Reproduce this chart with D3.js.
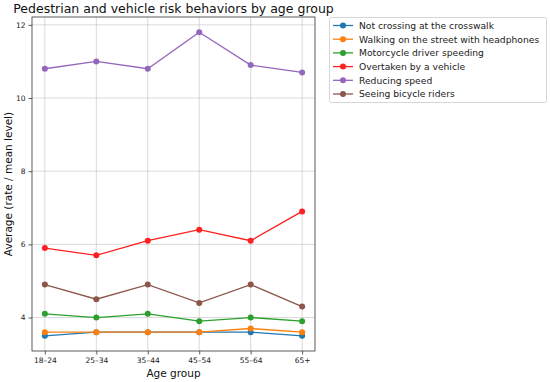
<!DOCTYPE html>
<html><head><meta charset="utf-8">
<script src="https://cdn.jsdelivr.net/npm/d3@7"></script>
<style>body{margin:0;background:#fff}svg{font-family:"DejaVu Sans",sans-serif}</style>
</head><body><svg width="550" height="382"></svg>
<script>
const categories = ["18–24","25–34","35–44","45–54","55–64","65+"];
const seriesNames = ["Not crossing at the crosswalk","Walking on the street with headphones","Motorcycle driver speeding","Overtaken by a vehicle","Reducing speed","Seeing bicycle riders"];
const seriesColors = ["#1f77b4","#ff7f0e","#2ca02c","#ff2020","#9467bd","#8c564b"];
const notCrossing = [3.5,3.6,3.6,3.6,3.6,3.5];
const headphones = [3.6,3.6,3.6,3.6,3.7,3.6];
const motoSpeeding = [4.1,4.0,4.1,3.9,4.0,3.9];
const overtaken = [5.9,5.7,6.1,6.4,6.1,6.9];
const reducingSpeed = [10.8,11.0,10.8,11.8,10.9,10.7];
const bicycles = [4.9,4.5,4.9,4.4,4.9,4.3];
const yTicks = [4,6,8,10,12];
const seriesValues = [notCrossing,headphones,motoSpeeding,overtaken,reducingSpeed,bicycles];

const svg = d3.select("svg");
const L=32,R=315,T=17,B=351;
const x = d3.scaleLinear().domain([-0.25,5.25]).range([L,R]);
const y = d3.scaleLinear().domain([3.085,12.215]).range([B,T]);

// grid
svg.append("g").selectAll("line").data(categories).join("line")
 .attr("x1",(d,i)=>x(i)).attr("x2",(d,i)=>x(i)).attr("y1",T).attr("y2",B)
 .attr("stroke","#b0b0b0").attr("stroke-opacity",0.6).attr("stroke-width",0.8);
svg.append("g").selectAll("line").data(yTicks).join("line")
 .attr("x1",L).attr("x2",R).attr("y1",d=>y(d)).attr("y2",d=>y(d))
 .attr("stroke","#b0b0b0").attr("stroke-opacity",0.6).attr("stroke-width",0.8);

// axes
const xAxis = d3.axisBottom(x).tickValues(d3.range(categories.length)).tickFormat(i=>categories[i]).tickSize(3.5).tickPadding(3);
const yAxis = d3.axisLeft(y).tickValues(yTicks).tickSize(3.5).tickPadding(3);
const gx = svg.append("g").attr("transform",`translate(0,${B})`).call(xAxis);
const gy = svg.append("g").attr("transform",`translate(${L},0)`).call(yAxis);
[gx,gy].forEach(g=>{g.select(".domain").remove();g.selectAll("text").attr("font-size",7.5).attr("fill","#222").attr("font-family","DejaVu Sans");g.selectAll("line").attr("stroke","#333").attr("stroke-width",0.8);});

// lines
const line = d3.line().x((d,i)=>x(i)).y(d=>y(d));
seriesValues.forEach((vals,k)=>{
  const g = svg.append("g");
  g.append("path").datum(vals).attr("d",line).attr("fill","none").attr("stroke",seriesColors[k]).attr("stroke-width",1.3);
  g.selectAll("circle").data(vals).join("circle").attr("cx",(d,i)=>x(i)).attr("cy",d=>y(d)).attr("r",3).attr("fill",seriesColors[k]);
});

// frame
svg.append("rect").attr("x",L).attr("y",T).attr("width",R-L).attr("height",B-T).attr("fill","none").attr("stroke","#333").attr("stroke-width",0.8);

// title & labels
svg.append("text").attr("x",(L+R)/2).attr("y",13).attr("text-anchor","middle").attr("font-size",12.5).attr("fill","#111").text("Pedestrian and vehicle risk behaviors by age group");
svg.append("text").attr("x",(L+R)/2).attr("y",377).attr("text-anchor","middle").attr("font-size",10.5).attr("fill","#111").text("Age group");
svg.append("text").attr("transform",`translate(12,${(T+B)/2}) rotate(-90)`).attr("text-anchor","middle").attr("font-size",10.5).attr("fill","#111").text("Average (rate / mean level)");

// legend
const lg = svg.append("g");
lg.append("rect").attr("x",329.5).attr("y",17.5).attr("width",217).attr("height",85).attr("rx",2).attr("fill","#fff").attr("stroke","#ccc").attr("stroke-width",0.8);
seriesNames.forEach((n,k)=>{
  const yy = 25.5 + k*13.7;
  lg.append("line").attr("x1",333).attr("x2",353).attr("y1",yy).attr("y2",yy).attr("stroke",seriesColors[k]).attr("stroke-width",1.3);
  lg.append("circle").attr("cx",343).attr("cy",yy).attr("r",3).attr("fill",seriesColors[k]);
  lg.append("text").attr("x",359).attr("y",yy+3.3).attr("font-size",9.2).attr("fill","#222").text(n);
});
</script></body></html>
